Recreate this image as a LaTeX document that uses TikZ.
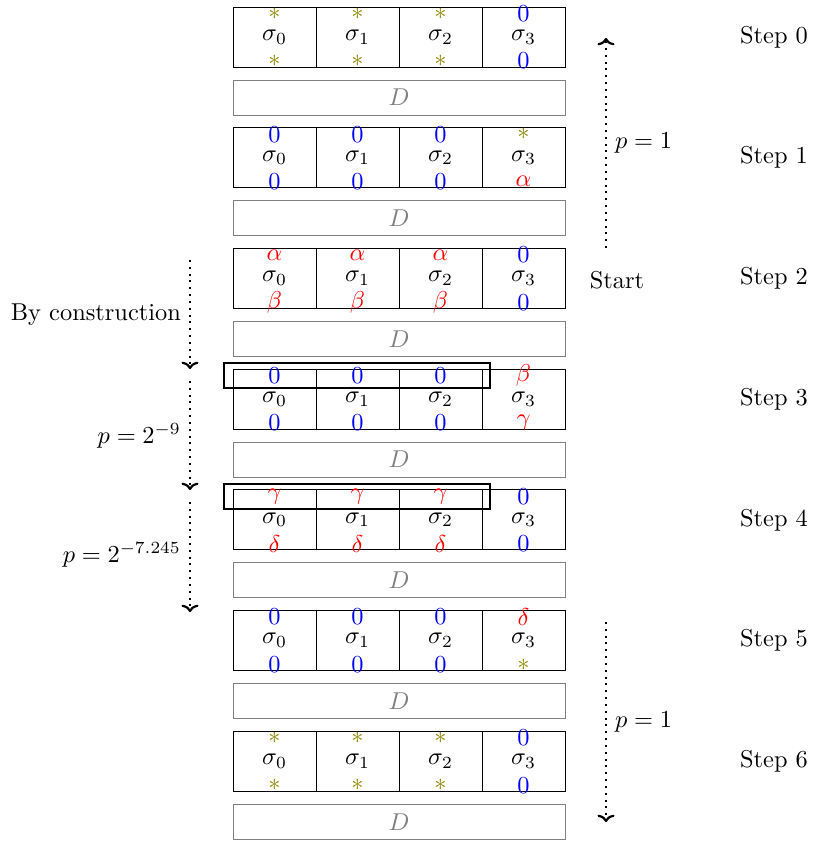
\documentclass[tikz,border=0pt]{standalone}
\usepackage{xcolor}
\usetikzlibrary{arrows.meta}
\newcommand\mZ{\textcolor{blue}{$0$}}
\newcommand\mS{\textcolor{olive}{$*$}}
\newcommand\mA{\textcolor{red}{$\alpha$}}
\newcommand\mB{\textcolor{red}{$\beta$}}
\newcommand\mG{\textcolor{red}{$\gamma$}}
\newcommand\mDl{\textcolor{red}{$\delta$}}
\tikzset{
  cell/.style={draw=black, minimum width=34.03pt, minimum height=24.6pt, inner sep=0pt, outer sep=0pt},
  sym/.style={inner sep=0pt, outer sep=0pt},
  dbox/.style={draw=gray, text=gray, minimum width=136.12pt, minimum height=14.35pt, inner sep=0pt, outer sep=0pt},
  steplabel/.style={inner sep=0pt},
  hl/.style={draw=black, thick, minimum width=109.06pt, minimum height=10.25pt, inner sep=0pt, outer sep=0pt},
  flow/.style={-{Computer Modern Rightarrow[width=7pt,length=3pt,line width=0.9pt]}, thick, dotted}
}
\newcommand\stepblock[9]{%
  \pgfmathsetmacro\ty{7+120.7*#1}
  \foreach \j/\u/\v in {0/#2/#6,1/#3/#7,2/#4/#8,3/#5/#9}{
    \node[cell] (c#1\j) at ({274.5+83*\j},{\ty+30}) {$\sigma_\j$};
    \node[sym] (t#1\j) at ({274.5+83*\j},{\ty+6.5}) {\u};
    \node[sym] (b#1\j) at ({274.5+83*\j},{\ty+54}) {\v};
  }
  \node[dbox] (d#1) at (399,{\ty+90.5}) {$D$};
  \node[steplabel] (s#1) at (774,{\ty+30}) {Step #1};
}
\begin{document}
\begin{tikzpicture}[x=0.41pt, y=-0.41pt]
  \useasboundingbox (0,0) rectangle (814,842);
  \stepblock{0}{\mS}{\mS}{\mS}{\mZ}{\mS}{\mS}{\mS}{\mZ}
  \stepblock{1}{\mZ}{\mZ}{\mZ}{\mS}{\mZ}{\mZ}{\mZ}{\mA}
  \stepblock{2}{\mA}{\mA}{\mA}{\mZ}{\mB}{\mB}{\mB}{\mZ}
  \stepblock{3}{\mZ}{\mZ}{\mZ}{\mB}{\mZ}{\mZ}{\mZ}{\mG}
  \stepblock{4}{\mG}{\mG}{\mG}{\mZ}{\mDl}{\mDl}{\mDl}{\mZ}
  \stepblock{5}{\mZ}{\mZ}{\mZ}{\mDl}{\mZ}{\mZ}{\mZ}{\mS}
  \stepblock{6}{\mS}{\mS}{\mS}{\mZ}{\mS}{\mS}{\mS}{\mZ}
  % highlights
  \node[hl] (h3) at (357,375.5) {};
  \node[hl] (h4) at (357,496.5) {};
  % start label
  \node[inner sep=0pt] (start) at (617,280) {Start};
  % right arrows
  \coordinate (r1s) at (606,248);
  \coordinate (r1e) at (606,38);
  \draw[flow] (r1s) -- node[right, black] (l1) {$p=1$} (r1e);
  \coordinate (r2s) at (606,622);
  \coordinate (r2e) at (606,822);
  \draw[flow] (r2s) -- node[right] (l2) {$p=1$} (r2e);
  % left arrows
  \coordinate (a1s) at (190,260);
  \coordinate (a1e) at (190,369);
  \draw[flow] (a1s) -- node[left] (l3) {By construction} (a1e);
  \coordinate (a2s) at (190,381);
  \coordinate (a2e) at (190,490);
  \draw[flow] (a2s) -- node[left] (l4) {$p=2^{-9}$} (a2e);
  \coordinate (a3s) at (190,502);
  \coordinate (a3e) at (190,612);
  \draw[flow] (a3s) -- node[left, yshift=1pt] (l5) {$p=2^{-7.245}$} (a3e);
\end{tikzpicture}
\end{document}
